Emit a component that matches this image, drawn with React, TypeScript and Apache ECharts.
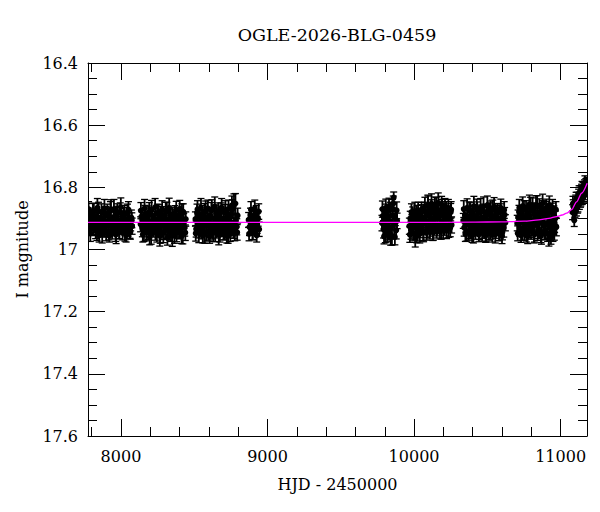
import React, { useEffect, useRef } from 'react';
import * as echarts from 'echarts';

const chartTitle = 'OGLE-2026-BLG-0459';
const xName = 'HJD - 2450000';
const yName = 'I magnitude';

const hjdMin = 7775;
const hjdMax = 11180;
const magMin = 16.4;
const magMax = 17.6;
const magStep = 0.2;

const xMajorTicks = [8000, 9000, 10000, 11000];
const xMinorTicks = [7800, 8200, 8400, 8600, 8800, 9200, 9400, 9600, 9800, 10200, 10400, 10600, 10800];

// [HJD - 2450000, I mag, error]
const season2017 = [
  [7776, 16.900, 0.022], [7782, 16.920, 0.025], [7789, 16.887, 0.020], [7794, 16.927, 0.028],
  [7800, 16.915, 0.024], [7808, 16.882, 0.030], [7812, 16.934, 0.021], [7818, 16.907, 0.026],
  [7825, 16.922, 0.023], [7830, 16.894, 0.027], [7836, 16.940, 0.031], [7842, 16.910, 0.019],
  [7847, 16.877, 0.029], [7854, 16.918, 0.022], [7860, 16.930, 0.025], [7864, 16.898, 0.024],
  [7872, 16.946, 0.033], [7878, 16.904, 0.020], [7883, 16.912, 0.026], [7890, 16.937, 0.023],
  [7896, 16.890, 0.028], [7902, 16.924, 0.021], [7907, 16.884, 0.030], [7914, 16.917, 0.024],
  [7918, 16.942, 0.027], [7924, 16.902, 0.022], [7932, 16.872, 0.032], [7937, 16.926, 0.025],
  [7943, 16.914, 0.020], [7949, 16.896, 0.026], [7956, 16.932, 0.023], [7961, 16.906, 0.029],
  [7967, 16.950, 0.031], [7971, 16.888, 0.027], [7978, 16.921, 0.021], [7984, 16.909, 0.024],
  [7990, 16.938, 0.028], [7995, 16.880, 0.030], [8003, 16.928, 0.022], [8009, 16.901, 0.025],
  [8014, 16.916, 0.020], [8020, 16.892, 0.027], [8027, 16.944, 0.029], [8032, 16.911, 0.023],
  [8038, 16.923, 0.024], [8044, 16.885, 0.031], [8048, 16.931, 0.026], [8055, 16.903, 0.022],
  [8061, 16.936, 0.028], [8066, 16.919, 0.021], [8071, 16.897, 0.024], [8076, 16.925, 0.026],
  [7779, 16.870, 0.024], [7791, 16.948, 0.026], [7803, 16.893, 0.022], [7815, 16.877, 0.026],
  [7827, 16.940, 0.025], [7839, 16.866, 0.030], [7851, 16.955, 0.021], [7867, 16.880, 0.027],
  [7875, 16.935, 0.024], [7887, 16.868, 0.029], [7899, 16.946, 0.026], [7910, 16.886, 0.022],
  [7921, 16.956, 0.020], [7928, 16.874, 0.028], [7940, 16.943, 0.023], [7952, 16.870, 0.031],
  [7964, 16.952, 0.022], [7975, 16.879, 0.026], [7987, 16.938, 0.027], [7999, 16.864, 0.030],
  [8011, 16.947, 0.022], [8024, 16.883, 0.025], [8035, 16.955, 0.021], [8051, 16.872, 0.026],
  [8064, 16.944, 0.023], [8074, 16.906, 0.024],
];

const season2018 = [
  [8134, 16.919, 0.024], [8139, 16.894, 0.021], [8146, 16.932, 0.027], [8152, 16.906, 0.025],
  [8157, 16.944, 0.030], [8164, 16.886, 0.028], [8170, 16.926, 0.022], [8175, 16.914, 0.026],
  [8182, 16.899, 0.023], [8188, 16.939, 0.029], [8193, 16.881, 0.032], [8199, 16.923, 0.020],
  [8206, 16.950, 0.033], [8212, 16.910, 0.024], [8217, 16.892, 0.027], [8224, 16.929, 0.022],
  [8230, 16.902, 0.025], [8235, 16.942, 0.028], [8241, 16.917, 0.021], [8248, 16.884, 0.030],
  [8254, 16.934, 0.026], [8259, 16.907, 0.023], [8265, 16.954, 0.035], [8272, 16.896, 0.024],
  [8278, 16.924, 0.022], [8283, 16.889, 0.027], [8289, 16.947, 0.031], [8296, 16.915, 0.025],
  [8302, 16.904, 0.020], [8307, 16.936, 0.028], [8313, 16.878, 0.030], [8320, 16.928, 0.023],
  [8326, 16.911, 0.026], [8331, 16.941, 0.029], [8337, 16.894, 0.022], [8344, 16.921, 0.025],
  [8350, 16.956, 0.034], [8355, 16.900, 0.024], [8361, 16.932, 0.027], [8368, 16.888, 0.029],
  [8374, 16.918, 0.021], [8379, 16.945, 0.030], [8385, 16.905, 0.023], [8392, 16.897, 0.026],
  [8398, 16.938, 0.028], [8403, 16.913, 0.022], [8409, 16.926, 0.025], [8416, 16.884, 0.031],
  [8422, 16.949, 0.033], [8428, 16.908, 0.024], [8435, 16.930, 0.027], [8442, 16.902, 0.023],
  [8136, 16.875, 0.026], [8149, 16.952, 0.024], [8161, 16.868, 0.029], [8173, 16.945, 0.027],
  [8185, 16.883, 0.023], [8196, 16.960, 0.025], [8209, 16.872, 0.030], [8221, 16.938, 0.022],
  [8233, 16.864, 0.028], [8245, 16.950, 0.026], [8257, 16.880, 0.024], [8268, 16.957, 0.023],
  [8281, 16.870, 0.027], [8293, 16.943, 0.025], [8305, 16.877, 0.029], [8317, 16.962, 0.024],
  [8329, 16.866, 0.031], [8341, 16.948, 0.026], [8353, 16.886, 0.022], [8365, 16.955, 0.025],
  [8377, 16.873, 0.028], [8389, 16.940, 0.024], [8401, 16.869, 0.027], [8413, 16.958, 0.023],
  [8425, 16.879, 0.026], [8439, 16.946, 0.025],
];

const season2019 = [
  [8508, 16.902, 0.023], [8513, 16.934, 0.026], [8519, 16.882, 0.028], [8526, 16.920, 0.022],
  [8531, 16.947, 0.031], [8537, 16.894, 0.025], [8543, 16.915, 0.020], [8549, 16.939, 0.027],
  [8554, 16.887, 0.029], [8561, 16.926, 0.024], [8567, 16.907, 0.021], [8572, 16.950, 0.030],
  [8578, 16.877, 0.033], [8585, 16.922, 0.023], [8590, 16.897, 0.026], [8596, 16.942, 0.028],
  [8602, 16.912, 0.022], [8608, 16.890, 0.025], [8613, 16.930, 0.027], [8620, 16.872, 0.032],
  [8626, 16.937, 0.029], [8631, 16.918, 0.021], [8637, 16.900, 0.024], [8643, 16.945, 0.030],
  [8649, 16.884, 0.027], [8654, 16.928, 0.023], [8661, 16.910, 0.020], [8667, 16.952, 0.033],
  [8672, 16.892, 0.026], [8678, 16.923, 0.022], [8684, 16.880, 0.030], [8690, 16.933, 0.025],
  [8695, 16.916, 0.021], [8702, 16.904, 0.024], [8708, 16.941, 0.028], [8713, 16.874, 0.031],
  [8719, 16.925, 0.023], [8725, 16.896, 0.026], [8731, 16.948, 0.032], [8736, 16.909, 0.022],
  [8743, 16.936, 0.027], [8749, 16.886, 0.028], [8754, 16.921, 0.024], [8760, 16.870, 0.030],
  [8766, 16.931, 0.025], [8771, 16.857, 0.036], [8777, 16.943, 0.029], [8784, 16.906, 0.022],
  [8790, 16.927, 0.026], [8796, 16.891, 0.024],
  [8510, 16.948, 0.025], [8522, 16.871, 0.028], [8534, 16.940, 0.023], [8546, 16.866, 0.030],
  [8558, 16.955, 0.024], [8570, 16.878, 0.026], [8582, 16.944, 0.029], [8593, 16.868, 0.027],
  [8605, 16.958, 0.022], [8617, 16.874, 0.025], [8629, 16.946, 0.028], [8640, 16.862, 0.031],
  [8652, 16.939, 0.024], [8664, 16.876, 0.026], [8675, 16.953, 0.023], [8687, 16.865, 0.029],
  [8699, 16.942, 0.027], [8711, 16.880, 0.025], [8722, 16.957, 0.022], [8734, 16.869, 0.028],
  [8746, 16.950, 0.024], [8757, 16.858, 0.030], [8769, 16.938, 0.026], [8781, 16.852, 0.032],
  [8793, 16.945, 0.025],
];

const season2020 = [
  [8871, 16.905, 0.024], [8877, 16.928, 0.027], [8884, 16.889, 0.022], [8890, 16.918, 0.025],
  [8897, 16.940, 0.028], [8903, 16.896, 0.023], [8910, 16.912, 0.026], [8916, 16.931, 0.022],
  [8923, 16.884, 0.025], [8929, 16.921, 0.027], [8936, 16.901, 0.024], [8943, 16.935, 0.023],
  [8874, 16.950, 0.022], [8887, 16.872, 0.026], [8900, 16.945, 0.024], [8913, 16.868, 0.027],
  [8926, 16.955, 0.021], [8940, 16.878, 0.025],
];

const season2022 = [
  [9781, 16.915, 0.025], [9787, 16.892, 0.022], [9792, 16.935, 0.028], [9798, 16.903, 0.024],
  [9804, 16.948, 0.030], [9809, 16.880, 0.026], [9815, 16.922, 0.023], [9821, 16.897, 0.027],
  [9826, 16.940, 0.029], [9832, 16.910, 0.021], [9838, 16.873, 0.025], [9843, 16.929, 0.027],
  [9849, 16.955, 0.031], [9855, 16.890, 0.024], [9861, 16.833, 0.018], [9866, 16.918, 0.026],
  [9872, 16.900, 0.023], [9878, 16.938, 0.028], [9884, 16.908, 0.025],
  [9784, 16.870, 0.026], [9795, 16.958, 0.024], [9807, 16.866, 0.028], [9818, 16.950, 0.025],
  [9829, 16.862, 0.027], [9840, 16.962, 0.024], [9852, 16.868, 0.029], [9858, 16.852, 0.024],
  [9869, 16.960, 0.025], [9881, 16.874, 0.027],
];

const season2023 = [
  [9968, 16.925, 0.026], [9974, 16.900, 0.023], [9979, 16.938, 0.029], [9985, 16.912, 0.024],
  [9991, 16.890, 0.027], [9997, 16.930, 0.025], [10002, 16.905, 0.022], [10008, 16.962, 0.030],
  [10014, 16.918, 0.024], [10019, 16.886, 0.028], [10025, 16.942, 0.031], [10031, 16.908, 0.023],
  [10037, 16.895, 0.026], [10042, 16.933, 0.029], [10048, 16.881, 0.025], [10054, 16.920, 0.022],
  [10059, 16.902, 0.027], [10065, 16.945, 0.030], [10071, 16.876, 0.028], [10077, 16.915, 0.024],
  [10082, 16.893, 0.021], [10088, 16.935, 0.027], [10094, 16.860, 0.035], [10099, 16.910, 0.023],
  [10105, 16.888, 0.026], [10111, 16.928, 0.029], [10117, 16.870, 0.030], [10122, 16.903, 0.022],
  [10128, 16.940, 0.031], [10134, 16.882, 0.025], [10139, 16.918, 0.024], [10145, 16.896, 0.027],
  [10151, 16.865, 0.032], [10157, 16.930, 0.026], [10162, 16.899, 0.023], [10168, 16.877, 0.028],
  [10174, 16.922, 0.025], [10179, 16.891, 0.022], [10185, 16.937, 0.030], [10191, 16.868, 0.029],
  [10197, 16.908, 0.024], [10202, 16.884, 0.026], [10208, 16.926, 0.028], [10214, 16.897, 0.023],
  [10219, 16.873, 0.027], [10225, 16.915, 0.025], [10231, 16.889, 0.022], [10237, 16.932, 0.029],
  [10244, 16.902, 0.024], [10250, 16.880, 0.028], [10256, 16.921, 0.026],
  [9971, 16.952, 0.025], [9982, 16.880, 0.027], [9994, 16.948, 0.024], [10005, 16.876, 0.028],
  [10016, 16.956, 0.022], [10028, 16.874, 0.026], [10039, 16.950, 0.029], [10051, 16.872, 0.024],
  [10062, 16.944, 0.027], [10074, 16.862, 0.030], [10085, 16.947, 0.023], [10096, 16.856, 0.028],
  [10108, 16.940, 0.026], [10119, 16.852, 0.031], [10131, 16.946, 0.024], [10142, 16.858, 0.027],
  [10154, 16.938, 0.025], [10165, 16.850, 0.032], [10176, 16.943, 0.023], [10188, 16.855, 0.026],
  [10199, 16.935, 0.028], [10211, 16.860, 0.024], [10222, 16.940, 0.025], [10234, 16.866, 0.027],
  [10247, 16.930, 0.029], [10253, 16.872, 0.026],
];

const season2024 = [
  [10336, 16.908, 0.024], [10342, 16.930, 0.027], [10347, 16.889, 0.022], [10353, 16.918, 0.026],
  [10359, 16.943, 0.030], [10365, 16.897, 0.023], [10370, 16.913, 0.025], [10376, 16.875, 0.028],
  [10382, 16.936, 0.029], [10388, 16.902, 0.021], [10393, 16.925, 0.026], [10399, 16.884, 0.024],
  [10405, 16.948, 0.031], [10411, 16.910, 0.022], [10416, 16.893, 0.027], [10422, 16.931, 0.025],
  [10428, 16.868, 0.030], [10434, 16.920, 0.023], [10439, 16.904, 0.026], [10445, 16.940, 0.028],
  [10451, 16.881, 0.024], [10457, 16.915, 0.022], [10462, 16.898, 0.027], [10468, 16.935, 0.029],
  [10474, 16.862, 0.031], [10480, 16.923, 0.023], [10485, 16.906, 0.025], [10491, 16.945, 0.030],
  [10497, 16.887, 0.026], [10503, 16.912, 0.022], [10508, 16.928, 0.027], [10514, 16.878, 0.028],
  [10520, 16.938, 0.029], [10526, 16.900, 0.024], [10531, 16.917, 0.021], [10537, 16.871, 0.030],
  [10543, 16.933, 0.026], [10549, 16.894, 0.025], [10554, 16.951, 0.028], [10560, 16.909, 0.023],
  [10566, 16.885, 0.027], [10572, 16.926, 0.024], [10577, 16.903, 0.022], [10583, 16.942, 0.029],
  [10589, 16.879, 0.026], [10595, 16.919, 0.025], [10600, 16.957, 0.024], [10606, 16.896, 0.028],
  [10612, 16.930, 0.030], [10618, 16.888, 0.023], [10623, 16.914, 0.026],
  [10339, 16.870, 0.027], [10350, 16.950, 0.024], [10362, 16.866, 0.029], [10373, 16.945, 0.025],
  [10385, 16.874, 0.026], [10396, 16.955, 0.022], [10408, 16.860, 0.031], [10419, 16.940, 0.027],
  [10431, 16.872, 0.025], [10442, 16.952, 0.023], [10454, 16.864, 0.028], [10465, 16.947, 0.026],
  [10477, 16.878, 0.024], [10488, 16.956, 0.021], [10500, 16.858, 0.030], [10511, 16.943, 0.027],
  [10523, 16.869, 0.025], [10534, 16.953, 0.023], [10546, 16.862, 0.029], [10557, 16.938, 0.026],
  [10569, 16.876, 0.024], [10580, 16.950, 0.022], [10592, 16.866, 0.028], [10603, 16.944, 0.025],
  [10615, 16.873, 0.027],
];

const season2025 = [
  [10704, 16.915, 0.025], [10710, 16.896, 0.023], [10716, 16.879, 0.021], [10721, 16.930, 0.028],
  [10727, 16.905, 0.024], [10733, 16.888, 0.026], [10738, 16.940, 0.030], [10744, 16.912, 0.022],
  [10750, 16.870, 0.027], [10755, 16.926, 0.029], [10761, 16.900, 0.023], [10767, 16.945, 0.031],
  [10772, 16.883, 0.025], [10778, 16.918, 0.024], [10784, 16.893, 0.026], [10789, 16.934, 0.028],
  [10795, 16.862, 0.030], [10801, 16.909, 0.022], [10806, 16.928, 0.027], [10812, 16.875, 0.025],
  [10818, 16.947, 0.032], [10823, 16.903, 0.023], [10829, 16.890, 0.026], [10835, 16.921, 0.024],
  [10840, 16.858, 0.031], [10846, 16.937, 0.028], [10852, 16.897, 0.022], [10857, 16.913, 0.025],
  [10863, 16.881, 0.027], [10869, 16.950, 0.033], [10874, 16.906, 0.024], [10880, 16.872, 0.029],
  [10886, 16.924, 0.026], [10891, 16.894, 0.023], [10897, 16.939, 0.030], [10903, 16.866, 0.028],
  [10908, 16.917, 0.025], [10914, 16.885, 0.024], [10920, 16.966, 0.023], [10925, 16.901, 0.022],
  [10931, 16.932, 0.029], [10937, 16.877, 0.026], [10942, 16.911, 0.024], [10948, 16.943, 0.031],
  [10954, 16.887, 0.027], [10959, 16.920, 0.025], [10965, 16.899, 0.023], [10971, 16.928, 0.028],
  [10707, 16.948, 0.024], [10718, 16.866, 0.027], [10730, 16.955, 0.022], [10741, 16.860, 0.029],
  [10752, 16.944, 0.026], [10764, 16.868, 0.025], [10775, 16.958, 0.023], [10787, 16.855, 0.030],
  [10798, 16.940, 0.027], [10809, 16.862, 0.028], [10821, 16.952, 0.024], [10832, 16.858, 0.031],
  [10843, 16.946, 0.025], [10855, 16.864, 0.027], [10866, 16.956, 0.022], [10877, 16.852, 0.030],
  [10889, 16.942, 0.026], [10900, 16.870, 0.025], [10911, 16.950, 0.024], [10923, 16.857, 0.029],
  [10934, 16.960, 0.023], [10945, 16.866, 0.027], [10957, 16.945, 0.025], [10968, 16.872, 0.026],
];

const season2026 = [
  [11082, 16.880, 0.024], [11086, 16.862, 0.022], [11093, 16.906, 0.020], [11098, 16.871, 0.025],
  [11103, 16.848, 0.023], [11108, 16.866, 0.026], [11113, 16.838, 0.022], [11118, 16.855, 0.024],
  [11123, 16.827, 0.021], [11128, 16.846, 0.025], [11133, 16.818, 0.023], [11138, 16.836, 0.024],
  [11143, 16.812, 0.022], [11148, 16.830, 0.025], [11153, 16.805, 0.021], [11158, 16.822, 0.024],
  [11163, 16.798, 0.022], [11168, 16.815, 0.025], [11172, 16.793, 0.021], [11176, 16.808, 0.023],
  [11180, 16.790, 0.022],
  [11084, 16.852, 0.023], [11095, 16.875, 0.024], [11106, 16.838, 0.022], [11116, 16.858, 0.025],
  [11126, 16.818, 0.023], [11136, 16.840, 0.024], [11146, 16.803, 0.022], [11156, 16.825, 0.025],
  [11166, 16.784, 0.021], [11178, 16.806, 0.023],
];

// model light curve [HJD - 2450000, I mag]
const modelCurve = [
  [7775, 16.913], [9000, 16.913], [10000, 16.913], [10400, 16.912], [10600, 16.911],
  [10750, 16.909], [10850, 16.905], [10920, 16.900], [10973, 16.894], [11010, 16.889],
  [11041, 16.883], [11075, 16.872], [11109, 16.847], [11143, 16.819], [11181, 16.787],
];

const FONT = '"DejaVu Serif", "Liberation Serif", serif';

const App: React.FC = () => {
  const chartRef = useRef<HTMLDivElement>(null);

  useEffect(() => {
    document.body.style.margin = '0';
    if (!chartRef.current) return;
    const chart = echarts.init(chartRef.current, undefined, { renderer: 'svg' });

    const photometry = [
      ...season2017, ...season2018, ...season2019, ...season2020, ...season2022,
      ...season2023, ...season2024, ...season2025, ...season2026,
    ];

    const black = { color: '#000', width: 1 };
    const xBase = {
      type: 'value',
      min: hjdMin,
      max: hjdMax,
      splitLine: { show: false },
      axisLine: { show: false },
      axisLabel: { show: false },
    };
    const yBase = {
      type: 'value',
      inverse: true,
      min: magMin,
      max: magMax,
      interval: magStep,
      splitLine: { show: false },
      axisLine: { show: true, onZero: false, lineStyle: black },
      axisTick: { show: true, inside: true, length: 17, lineStyle: black },
      minorTick: { show: true, splitNumber: 4, length: 9, lineStyle: black },
    };

    chart.setOption({
      animation: false,
      backgroundColor: '#fff',
      grid: { left: 88, right: 13, top: 63, bottom: 76 },
      graphic: [
        {
          type: 'text',
          x: 337,
          y: 35,
          style: {
            text: chartTitle,
            font: `17.5px ${FONT}`,
            fill: '#000',
            textAlign: 'center',
            textVerticalAlign: 'middle',
          },
        },
      ],
      xAxis: [
        {
          ...xBase,
          position: 'bottom',
          name: xName,
          nameLocation: 'middle',
          nameGap: 40,
          nameTextStyle: { fontFamily: FONT, fontSize: 16, color: '#000' },
          axisLine: { show: true, onZero: false, lineStyle: black },
          axisTick: { show: true, inside: true, length: 17, lineStyle: black, customValues: xMajorTicks },
          axisLabel: {
            show: true,
            customValues: xMajorTicks,
            margin: 12,
            fontFamily: FONT,
            fontSize: 16,
            color: '#000',
            formatter: (v: number) => String(v),
          },
        },
        {
          ...xBase,
          position: 'bottom',
          axisTick: { show: true, inside: true, length: 9, lineStyle: black, customValues: xMinorTicks },
        },
        {
          ...xBase,
          position: 'top',
          axisLine: { show: true, onZero: false, lineStyle: black },
          axisTick: { show: true, inside: true, length: 17, lineStyle: black, customValues: xMajorTicks },
        },
        {
          ...xBase,
          position: 'top',
          axisTick: { show: true, inside: true, length: 9, lineStyle: black, customValues: xMinorTicks },
        },
      ],
      yAxis: [
        {
          ...yBase,
          position: 'left',
          name: yName,
          nameLocation: 'middle',
          nameRotate: 90,
          nameGap: 58,
          nameTextStyle: { fontFamily: FONT, fontSize: 16, color: '#000' },
          axisLabel: { margin: 10, fontFamily: FONT, fontSize: 16, color: '#000' },
        },
        {
          ...yBase,
          position: 'right',
          axisLabel: { show: false },
        },
      ],
      series: [
        {
          type: 'custom',
          name: 'OGLE I',
          xAxisIndex: 0,
          yAxisIndex: 0,
          data: photometry,
          encode: { x: 0, y: 1 },
          clip: true,
          z: 2,
          renderItem: (_params: any, api: any) => {
            const t = api.value(0);
            const mag = api.value(1);
            const err = api.value(2);
            const p = api.coord([t, mag]);
            const hi = api.coord([t, mag - err]);
            const lo = api.coord([t, mag + err]);
            const cap = 3.5;
            const capStyle = { stroke: '#000', lineWidth: 1.3 };
            return {
              type: 'group',
              children: [
                { type: 'line', shape: { x1: p[0], y1: hi[1], x2: p[0], y2: lo[1] }, style: { stroke: '#000', lineWidth: 1.8 } },
                { type: 'line', shape: { x1: p[0] - cap, y1: hi[1], x2: p[0] + cap, y2: hi[1] }, style: capStyle },
                { type: 'line', shape: { x1: p[0] - cap, y1: lo[1], x2: p[0] + cap, y2: lo[1] }, style: capStyle },
                { type: 'circle', shape: { cx: p[0], cy: p[1], r: 3 }, style: { fill: '#000' } },
              ],
            };
          },
        },
        {
          type: 'line',
          name: 'model',
          xAxisIndex: 0,
          yAxisIndex: 0,
          data: modelCurve,
          showSymbol: false,
          symbol: 'none',
          smooth: 0.3,
          smoothMonotone: 'x',
          clip: true,
          z: 3,
          lineStyle: { color: '#ff00ff', width: 1.3 },
        },
      ],
    });

    return () => chart.dispose();
  }, []);

  return <div ref={chartRef} style={{ width: 600, height: 512 }} />;
};

export default App;
